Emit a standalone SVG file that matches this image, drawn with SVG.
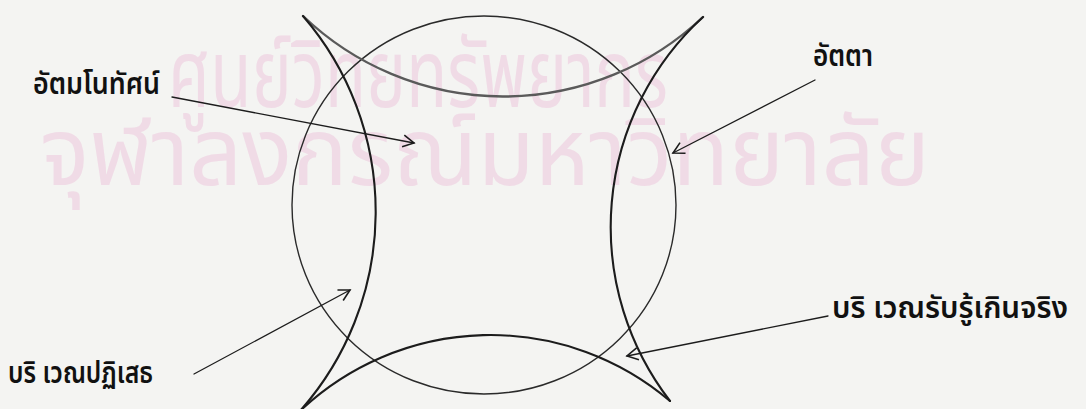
<svg xmlns="http://www.w3.org/2000/svg" width="1086" height="409" viewBox="0 0 1086 409">
<style>
.bg{fill:#f4f4f2}
.wm{fill:#f0dbe6;font-family:"Noto Sans Thai","Loma","Garuda","DejaVu Sans",sans-serif;font-size:94px}
.lbl{fill:#111;font-family:"Noto Sans Thai","Norasi","DejaVu Sans",sans-serif;font-size:30px;font-weight:600}
.ln{fill:none;stroke:#1c1c1c;stroke-linecap:round}
.circ{stroke:#2a2a2a;stroke-width:1.4}
.arc{stroke-width:2.1}
.pencil{stroke:#5a5a5a;stroke-width:2.4}
.arw{stroke-width:1.3;marker-end:url(#ah)}
</style>
<defs>
<marker id="ah" markerUnits="userSpaceOnUse" markerWidth="16" markerHeight="16" refX="13" refY="8" orient="auto">
<path d="M2,2 L13,8 L2,14" fill="none" stroke="#1c1c1c" stroke-width="1.6" stroke-linejoin="miter"/>
</marker>
</defs>
<rect class="bg" x="0" y="0" width="1086" height="409"/>
<g id="watermark">
<text class="wm" x="168" y="107" textLength="500" lengthAdjust="spacingAndGlyphs">ศูนย์วิทยทรัพยากร</text>
<text class="wm" x="40" y="185" textLength="890" lengthAdjust="spacingAndGlyphs">จุฬาลงกรณ์มหาวิทยาลัย</text>
</g>
<g id="figure">
<ellipse id="circle" class="ln circ" cx="484" cy="205" rx="192" ry="189"/>
<path id="arc-top" class="ln pencil" d="M303,16 A290,290 0 0 0 703,17"/>
<path id="arc-left" class="ln arc" d="M303,16 A300,300 0 0 1 300,411"/>
<path id="arc-right" class="ln arc" d="M703,17 A285,285 0 0 0 670,401"/>
<path id="arc-bottom" class="ln arc" d="M300,411 A277,277 0 0 1 670,401"/>
</g>
<g id="connectors">
<path class="ln arw" d="M172,97 L414,143"/>
<path class="ln arw" d="M815,80 L673,153"/>
<path class="ln arw" d="M194,374 L350,290"/>
<path class="ln arw" d="M828,316 L627,356"/>
</g>
<g id="label-atamanothat"><text class="lbl" x="33" y="94" textLength="127" lengthAdjust="spacingAndGlyphs">อัตมโนทัศน์</text></g>
<g id="label-atta"><text class="lbl" x="813" y="66" textLength="60" lengthAdjust="spacingAndGlyphs">อัตตา</text></g>
<g id="label-denial"><text class="lbl" x="8" y="383" textLength="145" lengthAdjust="spacingAndGlyphs">บริ เวณปฏิเสธ</text></g>
<g id="label-over"><text class="lbl" x="832" y="318" textLength="236" lengthAdjust="spacingAndGlyphs">บริ เวณรับรู้เกินจริง</text></g>
</svg>
